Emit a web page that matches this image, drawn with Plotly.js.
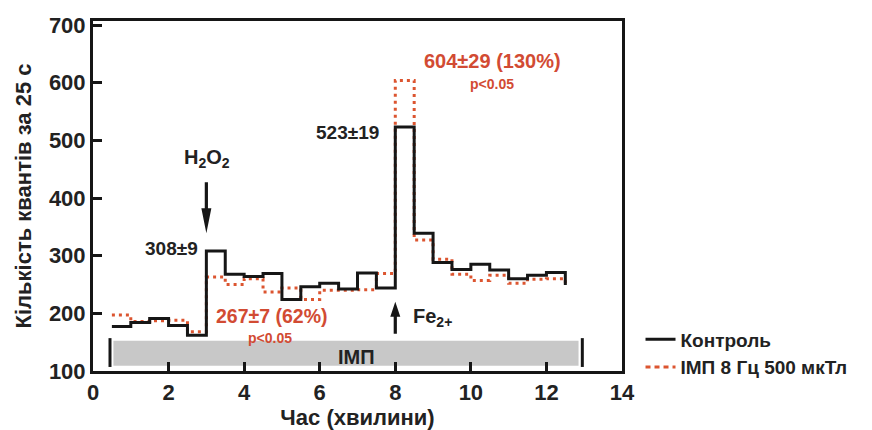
<!DOCTYPE html>
<html>
<head>
<meta charset="utf-8">
<script src="https://cdn.plot.ly/plotly-3.0.1.min.js"></script>
<style>html,body{margin:0;padding:0;background:#fff;}#chart{width:872px;height:430px;}</style>
</head>
<body>
<div id="chart"></div>
<script>
// Time (min) at start of each counting interval; last value closes the final step
var time = [0.5, 1.0, 1.5, 2.0, 2.5, 3.0, 3.5, 4.0, 4.5, 5.0, 5.5, 6.0, 6.5, 7.0, 7.5, 8.0, 8.5, 9.0, 9.5, 10.0, 10.5, 11.0, 11.5, 12.0, 12.5];
var control = [177, 184, 191, 179, 162, 308, 268, 264, 269, 224, 246, 252, 242, 270, 244, 523, 339, 288, 276, 285, 275, 260, 266, 271, 249];
var imp = [197, 186, 187, 188, 168, 263, 250, 260, 237, 244, 224, 240, 240, 241, 269, 604, 327, 294, 268, 257, 266, 252, 259, 260, 248];
var seriesNames = ['Контроль', 'ІМП 8 Гц 500 мкТл'];
var impPeriod = [0.45, 12.95];   // exposure period (min)
var h2o2Time = 3.0;              // H2O2 added
var feTime = 8.0;                // Fe2+ added
var yTicks = [100, 200, 300, 400, 500, 600, 700];
var xTicks = [0, 2, 4, 6, 8, 10, 12, 14];

var BLACK = '#161616';
var RED = '#dc5530';
var TRED = '#d24b33';
var FONT = 'Liberation Sans, Arial, sans-serif';

var traces = [
  {x: time, y: imp, type: 'scatter', mode: 'lines', line: {shape: 'hv', color: RED, width: 3, dash: '3px,4px'}, showlegend: false, hoverinfo: 'skip'},
  {x: time, y: control, type: 'scatter', mode: 'lines', line: {shape: 'hv', color: BLACK, width: 3}, showlegend: false, hoverinfo: 'skip'},
  {x: [null], y: [null], type: 'scatter', mode: 'lines', name: seriesNames[0], line: {color: BLACK, width: 3}},
  {x: [null], y: [null], type: 'scatter', mode: 'lines', name: seriesNames[1], line: {color: RED, width: 3, dash: '5px,4px'}}
];

function arrowPath(headLen, total, up) {
  // pixel path relative to tip, positive = up
  var s = up ? -1 : 1;
  var hw = 5, sw = 1.6;
  return 'M ' + (-sw) + ',' + (s*total) + ' L ' + sw + ',' + (s*total) +
         ' L ' + sw + ',' + (s*headLen) + ' L ' + hw + ',' + (s*headLen) +
         ' L 0,0 L ' + (-hw) + ',' + (s*headLen) + ' L ' + (-sw) + ',' + (s*headLen) + ' Z';
}

var shapes = [
  {type: 'rect', xref: 'x', yref: 'y', x0: impPeriod[0] + 0.09, x1: impPeriod[1] - 0.1, y0: 109, y1: 152.5,
   fillcolor: '#c8c8c8', line: {width: 0}, layer: 'below'},
  {type: 'line', xref: 'x', yref: 'y', x0: impPeriod[0], x1: impPeriod[0], y0: 107, y1: 157, line: {color: BLACK, width: 3}},
  {type: 'line', xref: 'x', yref: 'y', x0: impPeriod[1], x1: impPeriod[1], y0: 107, y1: 157, line: {color: BLACK, width: 3}},
  {type: 'path', xref: 'x', yref: 'y', xsizemode: 'pixel', ysizemode: 'pixel', xanchor: h2o2Time, yanchor: 339,
   path: arrowPath(25, 51, false), fillcolor: BLACK, line: {width: 0}},
  {type: 'path', xref: 'x', yref: 'y', xsizemode: 'pixel', ysizemode: 'pixel', xanchor: feTime, yanchor: 220,
   path: arrowPath(15, 32, true), fillcolor: BLACK, line: {width: 0}}
];

function f(size, color) { return {family: FONT, size: size, color: color || '#222', weight: 'bold'}; }
function ann(text, x, y, opts) {
  var a = {text: text, x: x, y: y, xref: 'x', yref: 'y', showarrow: false, font: f(19)};
  for (var k in opts) a[k] = opts[k];
  return a;
}

var annotations = [
  ann('H<sub>2</sub>O<sub>2</sub>', h2o2Time + 0.03, 469, {font: f(20)}),
  ann(control[5] + '±9', 2.82, 313, {xanchor: 'right'}),
  ann((imp[5] + 4) + '±7 (62%)', 4.74, 195, {font: f(19.5, TRED)}),
  ann('p<0.05', 4.69, 157, {font: f(14, TRED)}),
  ann(control[15] + '±19', 6.73, 513),
  ann(imp[15] + '±29 (130%)', 10.56, 637, {font: f(20, TRED)}),
  ann('p<0.05', 10.56, 598, {font: f(14, TRED)}),
  ann('Fe<sub>2+</sub>', 8.42, 192, {xanchor: 'left', font: f(20)}),
  ann('ІМП', 6.98, 124, {font: f(20)})
];

var axisCommon = {
  showline: true, mirror: true, linecolor: BLACK, linewidth: 3,
  ticks: 'inside', ticklen: 9, tickwidth: 3, tickcolor: BLACK,
  showgrid: false, zeroline: false,
  tickfont: f(22)
};

var layout = {
  width: 872, height: 430,
  margin: {l: 93, r: 250, t: 21, b: 59},
  paper_bgcolor: '#fff', plot_bgcolor: '#fff',
  font: {family: FONT},
  xaxis: Object.assign({}, axisCommon, {
    range: [0, 14], tickvals: xTicks, ticktext: xTicks.map(String),
    title: {text: 'Час (хвилини)', font: f(22), standoff: 0}
  }),
  yaxis: Object.assign({}, axisCommon, {
    range: [100, 707], tickvals: yTicks, ticktext: yTicks.map(String),
    title: {text: 'Кількість квантів за 25 с', font: f(22), standoff: 12}
  }),
  showlegend: true,
  legend: {x: 1.035, xanchor: 'left', y: 0.05, yanchor: 'middle', bgcolor: 'rgba(0,0,0,0)',
           font: f(19), tracegroupgap: 0},
  shapes: shapes,
  annotations: annotations
};

Plotly.newPlot('chart', traces, layout, {displayModeBar: false, staticPlot: true});
</script>
</body>
</html>
